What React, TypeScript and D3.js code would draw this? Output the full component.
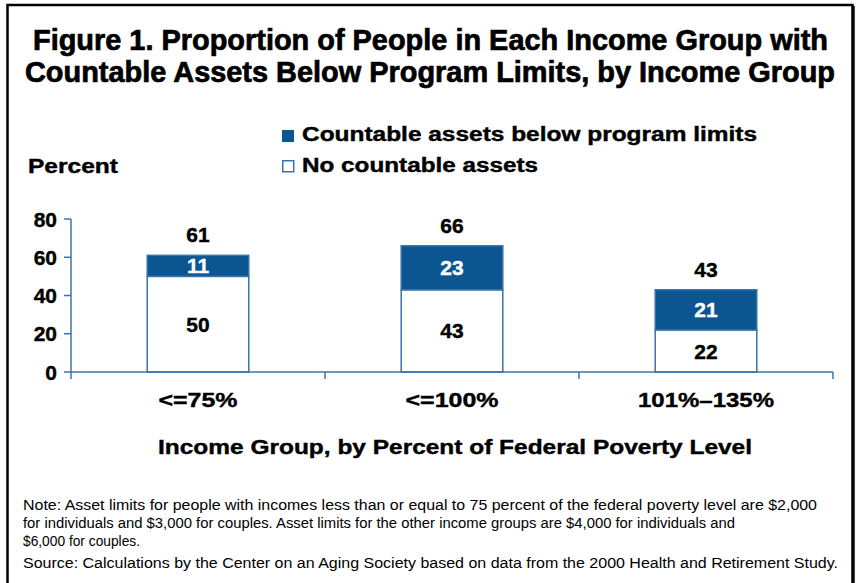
import React from "react";
import * as d3 from "d3";

const categories = ["<=75%", "<=100%", "101%–135%"];
const noAssets = [50, 43, 22];
const belowLimits = [11, 23, 21];
const totals = [61, 66, 43];
const yTicks = [0, 20, 40, 60, 80];

const titleLines = [
  "Figure 1. Proportion of People in Each Income Group with",
  "Countable Assets Below Program Limits, by Income Group",
];
const legendLabels = ["Countable assets below program limits", "No countable assets"];
const noteLines = [
  "Note: Asset limits for people with incomes less than or equal to 75 percent of the federal poverty level are $2,000",
  "for individuals and $3,000 for couples. Asset limits for the other income groups are $4,000 for individuals and",
  "$6,000 for couples.",
  "Source: Calculations by the Center on an Aging Society based on data from the 2000 Health and Retirement Study.",
];

const W = 858;
const H = 583;
const BLUE = "#0b5591";
const AXIS = "#3a74ab";
const FONT = "'Liberation Sans', Arial, sans-serif";

export default function App() {
  const x = d3
    .scaleBand<string>()
    .domain(categories)
    .range([71, 833])
    .paddingInner(0.6)
    .paddingOuter(0.3);
  const y = d3.scaleLinear().domain([0, 80]).range([372, 219]);
  const step = x.step();
  const bw = x.bandwidth();
  const boundaries = d3.range(categories.length + 1).map((i) => 71 + i * step);

  const titleW = [795, 810];
  const titleX = [33, 25];
  const titleY = [50, 82];
  const noteW = [794, 712, 117, 815];
  const noteY = [510, 528, 546, 568];
  const catW = [79, 93, 136];
  const heavy = { stroke: "#000", strokeWidth: 0.4 };

  return (
    <svg
      width={W}
      height={H}
      style={{ position: "absolute", left: 0, top: 0, background: "#fff" }}
      fontFamily={FONT}
    >
      <rect x={0} y={0} width={W} height={H} fill="#fff" />
      {/* frame */}
      <rect x={7.5} y={5} width={845} height={595} fill="none" stroke="#000" strokeWidth={2.5} />
      <line x1={854} y1={6} x2={854} y2={H} stroke="#000" strokeWidth={1.5} />

      {/* title */}
      {titleLines.map((t, i) => (
        <text
          key={i}
          x={titleX[i]}
          y={titleY[i]}
          fontSize={29}
          fontWeight="bold"
          textLength={titleW[i]}
          lengthAdjust="spacingAndGlyphs"
          fill="#000"
          stroke="#000"
          strokeWidth={0.7}
        >
          {t}
        </text>
      ))}

      {/* legend */}
      <rect x={282} y={130} width={12} height={12} fill={BLUE} />
      <rect x={282.75} y={160.75} width={11} height={11} fill="#fff" stroke={AXIS} strokeWidth={1.5} />
      <text x={302} y={141} fontSize={19.5} fontWeight="bold" textLength={455} lengthAdjust="spacingAndGlyphs" {...heavy}>
        {legendLabels[0]}
      </text>
      <text x={302} y={172} fontSize={19.5} fontWeight="bold" textLength={236} lengthAdjust="spacingAndGlyphs" {...heavy}>
        {legendLabels[1]}
      </text>

      <text x={28} y={172.5} fontSize={19.5} fontWeight="bold" textLength={90} lengthAdjust="spacingAndGlyphs" {...heavy}>
        Percent
      </text>

      {/* y axis */}
      <line x1={71} y1={y(80)} x2={71} y2={y(0)} stroke={AXIS} strokeWidth={1.5} />
      {yTicks.map((t) => (
        <g key={t}>
          <line x1={64} x2={71} y1={y(t)} y2={y(t)} stroke={AXIS} strokeWidth={1.5} />
          <text x={57} y={y(t)} dy="0.36em" textAnchor="end" fontSize={21} fontWeight="bold" {...heavy}>
            {t}
          </text>
        </g>
      ))}

      {/* bars */}
      {categories.map((c, i) => {
        const x0 = x(c)!;
        const cx = x0 + bw / 2;
        const yBase = y(0);
        const yMid = y(noAssets[i]);
        const yTop = y(noAssets[i] + belowLimits[i]);
        return (
          <g key={c}>
            <rect x={x0} y={yMid} width={bw} height={yBase - yMid} fill="#fff" stroke={AXIS} strokeWidth={1.5} />
            <rect x={x0} y={yTop} width={bw} height={yMid - yTop} fill={BLUE} stroke={AXIS} strokeWidth={1.5} />
            <text x={cx} y={(yTop + yMid) / 2} dy="0.36em" textAnchor="middle" fontSize={21} fontWeight="bold" fill="#fff" stroke="#fff" strokeWidth={0.4}>
              {belowLimits[i]}
            </text>
            <text x={cx} y={(yBase + yMid) / 2} dy="0.36em" textAnchor="middle" fontSize={21} fontWeight="bold" fill="#000" {...heavy}>
              {noAssets[i]}
            </text>
            <text x={cx} y={y(totals[i]) - 13} textAnchor="middle" fontSize={21} fontWeight="bold" fill="#000" {...heavy}>
              {totals[i]}
            </text>
          </g>
        );
      })}

      {/* x axis */}
      <line x1={71} x2={833} y1={y(0)} y2={y(0)} stroke={AXIS} strokeWidth={1.5} />
      {boundaries.map((b, i) => (
        <line key={i} x1={b} x2={b} y1={y(0)} y2={y(0) + 7} stroke={AXIS} strokeWidth={1.5} />
      ))}
      {categories.map((c, i) => (
        <text
          key={c}
          x={x(c)! + bw / 2}
          y={407}
          textAnchor="middle"
          fontSize={20.5}
          fontWeight="bold"
          textLength={catW[i]}
          lengthAdjust="spacingAndGlyphs"
          {...heavy}
        >
          {c}
        </text>
      ))}
      <text x={455} y={454} textAnchor="middle" fontSize={20.5} fontWeight="bold" textLength={594} lengthAdjust="spacingAndGlyphs" {...heavy}>
        Income Group, by Percent of Federal Poverty Level
      </text>

      {/* notes */}
      {noteLines.map((t, i) => (
        <text
          key={i}
          x={23}
          y={noteY[i]}
          fontSize={15.5}
          textLength={noteW[i]}
          lengthAdjust="spacingAndGlyphs"
          fill="#000"
        >
          {t}
        </text>
      ))}
    </svg>
  );
}
